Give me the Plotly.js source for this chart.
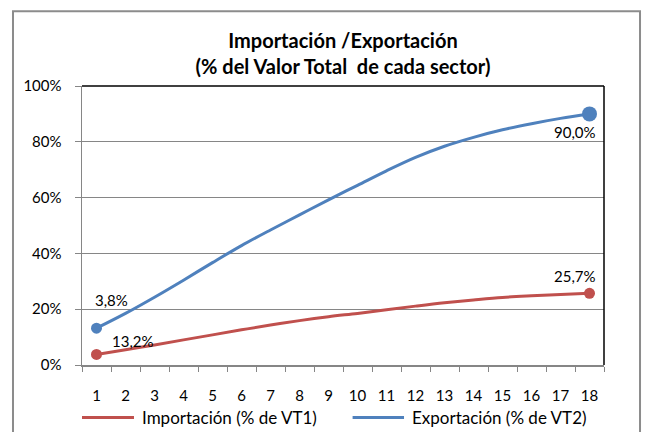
<!DOCTYPE html>
<html>
<head>
<meta charset="utf-8">
<script src="https://cdn.plot.ly/plotly-3.0.1.min.js"></script>
<style>
  html, body { margin: 0; padding: 0; background: #fff; }
  #chart { width: 657px; height: 432px; }
</style>
</head>
<body>
<div id="chart"></div>
<script>
// ---- Data ----
const categories = ["1","2","3","4","5","6","7","8","9","10","11","12","13","14","15","16","17","18"];
const importacion = [0.038, 0.055, 0.072, 0.090, 0.108, 0.126, 0.143, 0.159, 0.173, 0.185, 0.198, 0.211, 0.223, 0.233, 0.242, 0.248, 0.253, 0.257];
const exportacion = [0.132, 0.185, 0.243, 0.304, 0.367, 0.428, 0.484, 0.538, 0.592, 0.644, 0.696, 0.744, 0.784, 0.816, 0.843, 0.865, 0.884, 0.900];
const seriesNames = ["Importación (% de VT1)", "Exportación (% de VT2)"];
const titleLines = ["Importación /Exportación", "(% del Valor Total  de cada sector)"];
const yTickVals = [0, 0.2, 0.4, 0.6, 0.8, 1.0];

const RED = "#C0504D", BLUE = "#4F81BD", GRID = "#868686";
const FONT = "Lato, 'Open Sans', sans-serif";

const n = categories.length;
const fmt = v => (v * 100).toFixed(1).replace(".", ",") + "%";
const ends = arr => [arr[0], arr[n - 1]];
const endCats = [categories[0], categories[n - 1]];

const traces = [
  {
    x: categories, y: importacion, name: seriesNames[0], type: "scatter", mode: "lines",
    line: { color: RED, width: 3, shape: "spline", smoothing: 1 },
    hoverinfo: "skip", showlegend: false
  },
  {
    x: categories, y: exportacion, name: seriesNames[1], type: "scatter", mode: "lines",
    line: { color: BLUE, width: 3, shape: "spline", smoothing: 1 },
    hoverinfo: "skip", showlegend: false
  },
  {
    x: endCats, y: ends(importacion), type: "scatter", mode: "markers",
    marker: { color: RED, size: [11, 11], opacity: 1, line: { width: 0 } },
    hoverinfo: "skip", showlegend: false
  },
  {
    x: endCats, y: ends(exportacion), type: "scatter", mode: "markers",
    marker: { color: BLUE, size: [11, 15], opacity: 1, line: { width: 0 } },
    hoverinfo: "skip", showlegend: false
  }
];

// category positions on a category axis are given by index
const first = 0, last = n - 1;
const lblFont = { family: FONT, size: 15, color: "#000" };
const legY = -0.188;
const annotations = [
  { x: first, y: exportacion[0], text: fmt(importacion[0]), showarrow: false, xshift: 15, yshift: 28, font: lblFont },
  { x: first, y: importacion[0], text: fmt(exportacion[0]), showarrow: false, xshift: 36, yshift: 13, font: lblFont },
  { x: last, y: exportacion[n-1], text: fmt(exportacion[n-1]), showarrow: false, xshift: -15, yshift: -18, font: lblFont },
  { x: last, y: importacion[n-1], text: fmt(importacion[n-1]), showarrow: false, xshift: -15, yshift: 17, font: lblFont },
  // legend texts
  { xref: "paper", yref: "paper", x: 0.1111, y: legY, xanchor: "left", yanchor: "middle", showarrow: false,
    text: seriesNames[0], font: { family: FONT, size: 17, color: "#000" } },
  { xref: "paper", yref: "paper", x: 0.6284, y: legY, xanchor: "left", yanchor: "middle", showarrow: false,
    text: seriesNames[1], font: { family: FONT, size: 17, color: "#000" } }
];

const layout = {
  width: 657, height: 432,
  margin: { l: 82, r: 53, t: 86, b: 67, autoexpand: false },
  paper_bgcolor: "#fff", plot_bgcolor: "#fff",
  font: { family: FONT, size: 15, color: "#000" },
  title: {
    text: "<b>" + titleLines[0] + "</b><br><b>" + titleLines[1] + "</b>",
    font: { family: FONT, size: 20, color: "#000" },
    x: 0.5, xref: "paper", xanchor: "center",
    y: 1 - 47.5 / 432, yref: "container", yanchor: "middle"
  },
  xaxis: {
    type: "category", categoryorder: "array", categoryarray: categories,
    range: [-0.5, n - 0.5], tickangle: 0,
    tickson: "boundaries", ticks: "outside", ticklen: 5, tickcolor: GRID, tickwidth: 1,
    showline: true, linecolor: GRID, linewidth: 1.5, showgrid: false, zeroline: false,
    tickfont: { family: FONT, size: 15, color: "#000" }, ticklabelstandoff: 16,
    fixedrange: true
  },
  yaxis: {
    range: [0, 1], tickvals: yTickVals, tickformat: ".0%",
    ticks: "outside", ticklen: 6, tickcolor: GRID, tickwidth: 1,
    showline: true, linecolor: GRID, linewidth: 1.5,
    showgrid: true, gridcolor: GRID, gridwidth: 1, zeroline: false,
    tickfont: { family: FONT, size: 15, color: "#000" }, ticklabelstandoff: 10,
    fixedrange: true
  },
  showlegend: false,
  shapes: [
    { type: "line", xref: "paper", yref: "paper", x0: 0, x1: 1, y0: 1, y1: 1, line: { color: "#000", width: 1.5 } },
    { type: "line", xref: "paper", yref: "paper", x0: 1, x1: 1, y0: 0, y1: 1, line: { color: "#000", width: 1.5 } },
    { type: "rect", xref: "paper", yref: "paper", x0: -0.1322, x1: 1.069, y0: -0.3, y1: 1.268, line: { color: "#8c8c8c", width: 2 }, fillcolor: "rgba(0,0,0,0)" },
    // legend line symbols
    { type: "line", xref: "paper", yref: "paper", x0: 0, x1: 0.0996, y0: legY, y1: legY, line: { color: RED, width: 3 } },
    { type: "line", xref: "paper", yref: "paper", x0: 0.5184, x1: 0.6169, y0: legY, y1: legY, line: { color: BLUE, width: 3 } }
  ],
  annotations: annotations
};

Plotly.newPlot("chart", traces, layout, { staticPlot: true, displayModeBar: false });
</script>
</body>
</html>
